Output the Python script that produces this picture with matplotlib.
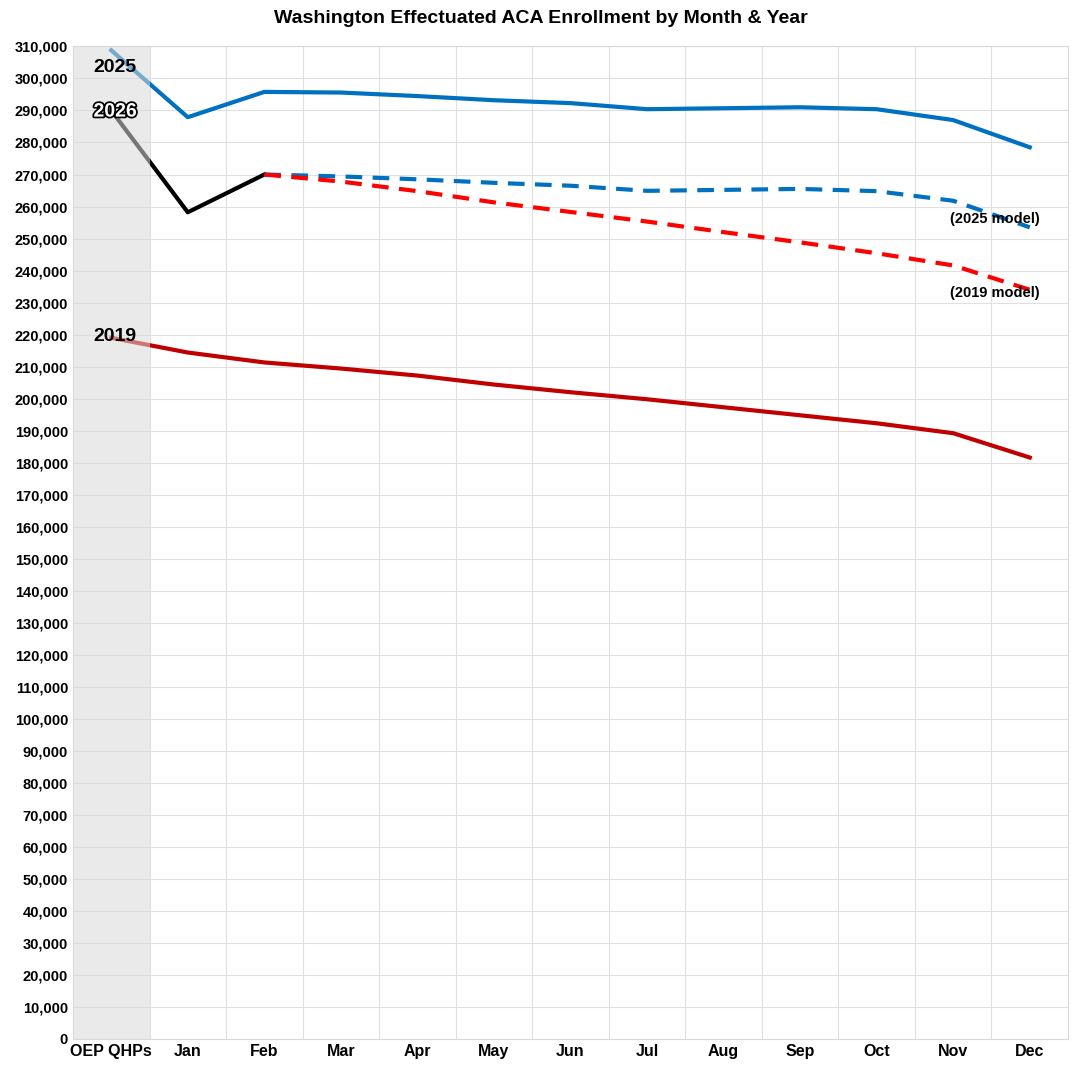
import matplotlib.pyplot as plt
import matplotlib.patheffects as pe

plt.rcParams['font.family'] = ['Liberation Sans', 'DejaVu Sans']

meses = ["OEP QHPs", "Jan", "Feb", "Mar", "Apr", "May", "Jun", "Jul", "Aug", "Sep", "Oct", "Nov", "Dec"]

y2025 = [308800, 287900, 295800, 295600, 294500, 293200, 292300, 290400, 290700, 291000, 290400, 287000, 278500]
y2026 = [290000, 258200, 270000]
y2019 = [219000, 214400, 211300, 209400, 207200, 204400, 202000, 199800, 197300, 194800, 192300, 189200, 181600]
modelo2025 = [270000, 269400, 268500, 267400, 266500, 264900, 265200, 265500, 264800, 261800, 253500]
modelo2019 = [270000, 267800, 264800, 261300, 258300, 255300, 252000, 248800, 245400, 241600, 234000]

fig = plt.figure(figsize=(10.81, 10.8), dpi=100)
ax = fig.add_axes([0.0675, 0.038, 0.9205, 0.919])

x = list(range(len(meses)))
ax.plot(x, y2025, color="#0070c0", lw=3)
ax.plot(x[:3], y2026, color="black", lw=3)
ax.plot(x, y2019, color="#c00000", lw=3)
ax.plot(x[2:], modelo2025, color="#0070c0", lw=3, ls=(0, (4, 2.5)))
ax.plot(x[2:], modelo2019, color="#ff0000", lw=3, ls=(0, (4, 2.5)))

# zona sombreada encima de las líneas para aclararlas
ax.axvspan(-0.5, 0.5, color="#d9d9d9", alpha=0.55, zorder=3, lw=0)

txt = dict(fontsize=14, fontweight="bold", ha="center", va="center", zorder=5)
ax.text(0.05, 303500, "2025", **txt)
ax.text(0.05, 289500, "2026", color="white",
        path_effects=[pe.withStroke(linewidth=2.5, foreground="black")], **txt)
ax.text(0.05, 219500, "2019", **txt)
ax.text(11.55, 256200, "(2025 model)", fontsize=10.5, fontweight="bold", ha="center", va="center")
ax.text(11.55, 233000, "(2019 model)", fontsize=10.5, fontweight="bold", ha="center", va="center")

ax.set_xlim(-0.5, 12.5)
ax.set_ylim(0, 310000)
ax.set_yticks(range(0, 310001, 10000))
ax.set_yticklabels([f"{v:,}" for v in range(0, 310001, 10000)], fontsize=10.5, fontweight="bold")
ax.set_xticks(x)
ax.set_xticklabels(meses, fontsize=11.5, fontweight="bold")
ax.set_xticks([i + 0.5 for i in range(12)], minor=True)
ax.grid(True, axis="y", color="#e0e0e0", lw=0.8)
ax.grid(True, axis="x", which="minor", color="#e0e0e0", lw=0.8)
ax.tick_params(length=0, which="both")
for s in ax.spines.values():
    s.set_color("#d9d9d9")
ax.set_axisbelow(True)

fig.text(0.5, 0.983, "Washington Effectuated ACA Enrollment by Month & Year",
         ha="center", va="center", fontsize=14, fontweight="bold")

fig.savefig("out.png")
